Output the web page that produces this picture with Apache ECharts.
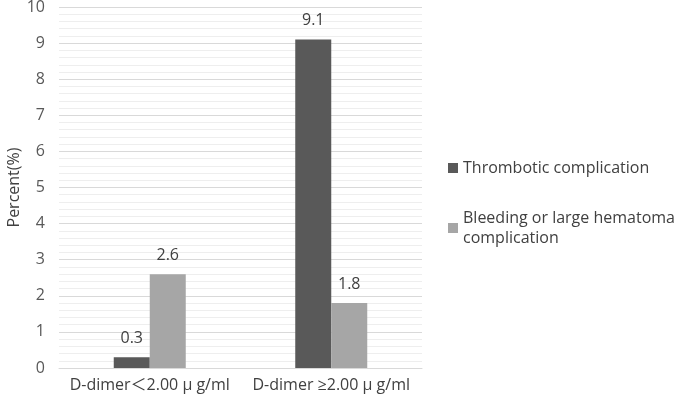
<!DOCTYPE html>
<html><head><meta charset="utf-8">
<script src="https://cdn.jsdelivr.net/npm/echarts@6/dist/echarts.min.js"></script>
<style>html,body{margin:0;padding:0;background:#fff}#c{width:675px;height:404px}</style>
</head><body><div id="c"></div>
<script>
const categories = ['D-dimer\uFF1C2.00 \u03BC g/ml', 'D-dimer \u22652.00 \u03BC g/ml'];
const seriesNames = ['Thrombotic complication', 'Bleeding or large hematoma\ncomplication'];
const thrombotic = [0.3, 9.1];
const bleeding = [2.6, 1.8];
const yTicks = [0, 10, 1];

const font = '"Open Sans", "Noto Sans CJK SC", sans-serif';
const chart = echarts.init(document.getElementById('c'));
chart.setOption({
  animation: false,
  textStyle: {fontFamily: font},
  grid: {left: 59, right: 253, top: 7, bottom: 36, containLabel: false, outerBoundsMode: 'none'},
  legend: {
    orient: 'vertical', left: 443, top: 153, itemGap: 30,
    itemWidth: 10, itemHeight: 10, icon: 'rect',
    textStyle: {fontSize: 16, color: '#404040', fontFamily: font, lineHeight: 20},
    data: seriesNames
  },
  xAxis: {
    type: 'category', data: categories,
    axisLine: {lineStyle: {color: '#d9d9d9'}}, axisTick: {show: false},
    axisLabel: {interval: 0, fontSize: 16, color: '#404040', margin: 9, fontFamily: font}
  },
  yAxis: {
    type: 'value', min: yTicks[0], max: yTicks[1], interval: yTicks[2],
    name: 'Percent(%)', nameLocation: 'middle', nameGap: 37, nameRotate: 90, nameMoveOverlap: false,
    nameTextStyle: {fontSize: 16, color: '#404040', fontFamily: font},
    axisLine: {show: false}, axisTick: {show: false},
    axisLabel: {fontSize: 16, color: '#595959', margin: 14, fontFamily: font},
    splitLine: {lineStyle: {color: '#d9d9d9'}},
    minorTick: {show: false, splitNumber: 5},
    minorSplitLine: {show: true, lineStyle: {color: '#eeeeee'}}
  },
  series: [
    {name: seriesNames[0], type: 'bar', data: thrombotic, barWidth: 36, barGap: '0%',
     itemStyle: {color: '#595959'},
     label: {show: true, position: 'top', distance: 11, fontSize: 16, color: '#404040', fontFamily: font}},
    {name: seriesNames[1], type: 'bar', data: bleeding, barWidth: 36, barGap: '0%',
     itemStyle: {color: '#a6a6a6'},
     label: {show: true, position: 'top', distance: 11, fontSize: 16, color: '#404040', fontFamily: font}}
  ]
});
</script></body></html>
